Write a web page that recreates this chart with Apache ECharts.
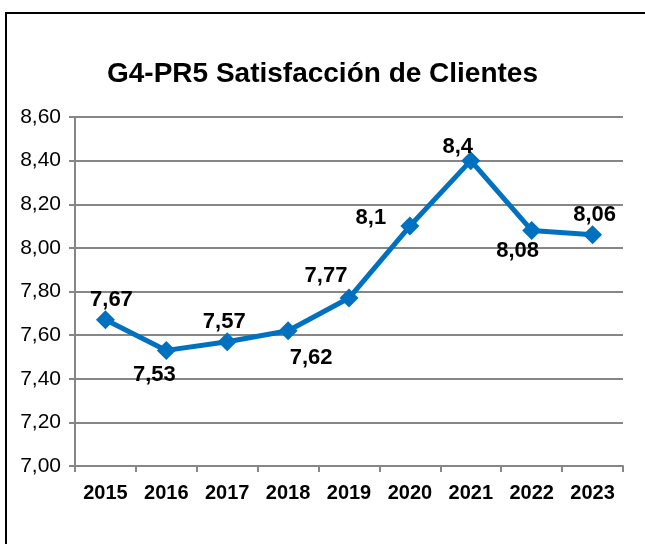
<!DOCTYPE html>
<html>
<head>
<meta charset="utf-8">
<script src="https://cdn.jsdelivr.net/npm/echarts@6/dist/echarts.min.js"></script>
<style>
  html, body { margin: 0; padding: 0; background: #fff; }
  #chart { width: 645px; height: 544px; }
</style>
</head>
<body>
<div id="chart"></div>
<script>
var chart = echarts.init(document.getElementById('chart'));

// datos
var years = ['2015', '2016', '2017', '2018', '2019', '2020', '2021', '2022', '2023'];
var satisfaccion = [7.67, 7.53, 7.57, 7.62, 7.77, 8.1, 8.4, 8.08, 8.06];
// desplazamiento de cada etiqueta respecto a su punto
var labelOffsets = [[6, -20], [-12, 25], [-3, -20], [23, 27], [-23, -22], [-39, -8], [-13, -14], [-14, 21], [2, -20]];

var serieData = satisfaccion.map(function (v, i) {
    return {
        value: v,
        label: { offset: labelOffsets[i] }
    };
});

var option = {
    backgroundColor: '#fff',
    animation: false,
    title: {
        text: 'G4-PR5 Satisfacción de Clientes',
        left: 'center',
        top: 55,
        textStyle: {
            fontFamily: 'Liberation Sans',
            fontWeight: 'bold',
            fontSize: 28,
            color: '#000'
        }
    },
    graphic: [{
        type: 'rect',
        shape: { x: 6, y: 13, width: 645, height: 540 },
        style: { fill: 'none', stroke: '#000', lineWidth: 2 },
        silent: true
    }],
    grid: {
        left: 75,
        right: 22,
        top: 117,
        bottom: 78
    },
    xAxis: {
        type: 'category',
        data: years,
        boundaryGap: true,
        axisLine: { lineStyle: { color: '#868686', width: 2 } },
        axisTick: { show: true, length: 6, lineStyle: { color: '#868686', width: 2 } },
        axisLabel: {
            color: '#000',
            fontFamily: 'Liberation Sans',
            fontWeight: 'bold',
            fontSize: 20,
            margin: 17
        }
    },
    yAxis: {
        type: 'value',
        min: 7.0,
        max: 8.6,
        interval: 0.2,
        axisLine: { show: true, lineStyle: { color: '#868686', width: 2 } },
        axisTick: { show: true, length: 6, lineStyle: { color: '#868686', width: 2 } },
        splitLine: { lineStyle: { color: '#868686', width: 2 } },
        axisLabel: {
            color: '#000',
            fontFamily: 'Liberation Sans',
            fontSize: 21,
            margin: 14,
            formatter: function (v) { return v.toFixed(2).replace('.', ','); }
        }
    },
    series: [{
        name: 'Satisfacción',
        type: 'line',
        data: serieData,
        symbol: 'diamond',
        symbolSize: 19,
        lineStyle: { color: '#0070C0', width: 5 },
        itemStyle: { color: '#0070C0' },
        label: {
            show: true,
            position: 'inside',
            color: '#000',
            fontFamily: 'Liberation Sans',
            fontWeight: 'bold',
            fontSize: 22,
            formatter: function (p) { return String(p.value).replace('.', ','); }
        }
    }]
};

chart.setOption(option);
</script>
</body>
</html>
